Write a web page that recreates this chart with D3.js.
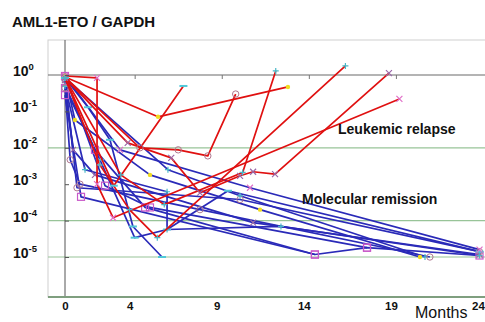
<!DOCTYPE html>
<html>
<head>
<meta charset="utf-8">
<script src="https://cdn.jsdelivr.net/npm/d3@7"></script>
<style>
  html, body { margin: 0; padding: 0; background: #fff; }
  svg { display: block; font-family: Arial, 'Liberation Sans', sans-serif; }
</style>
</head>
<body>
<svg id="chart" width="485" height="322"></svg>
<script>
// months after diagnosis, AML1-ETO / GAPDH ratio
const monthTicks = [0, 4, 9, 14, 19, 24]
const ratioTicks = [1, 1e-1, 1e-2, 1e-3, 1e-4, 1e-5]
const gridRatios = [1e-2, 1e-4, 1e-5]

// leukemic relapse patients
const relapse1 = [[0, 0.94], [1.84, 0.83], [1.84, 0.001], [2.76, 1.2e-4], [19.2, 0.22]]
const relapse2 = [[0, 0.88], [5.34, 0.071], [12.8, 0.47]]
const relapse3 = [[0, 0.88], [4.3, 0.01], [6.5, 0.0088], [8.2, 0.006], [9.8, 0.3]]
const relapse4 = [[0, 0.83], [2.8, 9.1e-4], [6.8, 0.5]]
const relapse5 = [[0, 0.83], [2.0, 0.0034], [3.7, 2e-4], [5.3, 3.4e-5], [16.1, 1.77]]
const relapse6 = [[0, 0.83], [3.6, 0.0137], [6.1, 0.0053], [7.75, 5.8e-4], [10.05, 0.0017], [10.8, 0.0022], [12.06, 0.0019], [18.6, 1.13]]
const relapse7 = [[0, 0.83], [3.2, 0.0018], [5.7, 2.75e-4], [10.2, 0.0021], [12.1, 1.29]]

// molecular remission patients
const remission1 = [[0, 0.28], [0.92, 4.5e-4], [14.35, 1.17e-5], [17.34, 1.8e-5], [23.8, 1.1e-5]]
const remission2 = [[0, 0.73], [0.69, 8e-4], [10.05, 3.8e-4], [23.8, 1.4e-5]]
const remission3 = [[0, 0.73], [0.46, 0.0088], [1.72, 0.0018], [10.8, 8.8e-5], [23.8, 1.17e-5]]
const remission4 = [[0, 0.83], [1.32, 0.13], [2.58, 0.0166], [3.9, 6.9e-5], [5.57, 1e-5]]
const remission5 = [[0, 0.83], [5.91, 0.0025], [10.05, 4.8e-4], [20.67, 1e-5]]
const remission6 = [[0, 0.5], [2.0, 0.0047], [4.0, 3.4e-5], [5.86, 5.7e-5], [9.36, 6.6e-4], [23.8, 1.4e-5]]
const remission7 = [[0, 0.5], [1.15, 0.0025], [5.86, 6.2e-4], [5.86, 5.7e-5], [12.4, 6.9e-5], [23.8, 1.1e-5]]
const remission8 = [[0, 0.44], [1.72, 0.0088], [4.6, 2.3e-4], [14.35, 1.17e-5]]
const remission9 = [[0, 0.44], [0.3, 0.0047], [0.86, 0.001], [7.75, 2e-4], [20.95, 1e-5]]
const remission10 = [[0, 0.94], [2.3, 9.1e-4], [4.88, 2.3e-4], [17.34, 1.8e-5]]
const remission11 = [[0, 0.94], [3.16, 0.0088], [10.62, 8e-4], [23.8, 1.6e-5]]
const remission12 = [[0, 0.94], [0.57, 0.058], [4.88, 0.0018], [11.2, 2e-4], [20.38, 1e-5]]

const relapseSeries = [relapse1, relapse2, relapse3, relapse4, relapse5, relapse6, relapse7]
const remissionSeries = [remission1, remission2, remission3, remission4, remission5, remission6,
  remission7, remission8, remission9, remission10, remission11, remission12]
// marker kind drawn on the points of each patient
const relapseMarkers = ['x', 'dot', 'circle', 'dash', 'plus', 'x2', 'plus']
const remissionMarkers = ['square', 'circle', 'x2', 'dash', 'plus', 'dash', 'plus', 'square', 'circle', 'square', 'x', 'dot']

const svg = d3.select('#chart')
const frame = {left: 48, top: 40, right: 486, bottom: 297}
const x = d3.scaleLinear().domain([0, 24]).range([65, 483])
const y = d3.scaleLog().domain([1e-5, 1]).range([257, 75])

const markColor = {
  x: '#e070c8', x2: '#9a68a8', plus: '#48b8c8', circle: '#b07890',
  square: '#c858c8', dash: '#50c8d8', dot: '#f0dc20'
}

// plot frame
svg.append('rect')
  .attr('x', frame.left)
  .attr('y', frame.top)
  .attr('width', frame.right - frame.left)
  .attr('height', frame.bottom - frame.top)
  .attr('fill', '#fff')
  .attr('stroke', '#cfcfcf')

// green grid lines
svg.append('g')
  .selectAll('line')
  .data(gridRatios)
  .join('line')
  .attr('x1', frame.left)
  .attr('x2', frame.right)
  .attr('y1', d => y(d))
  .attr('y2', d => y(d))
  .attr('stroke', '#98c498')
  .attr('stroke-width', 1.2)

// 10^0 line with small month ticks
svg.append('line')
  .attr('x1', frame.left)
  .attr('x2', frame.right)
  .attr('y1', y(1))
  .attr('y2', y(1))
  .attr('stroke', '#6a6a6a')
  .attr('stroke-width', 1.2)

const topTicks = svg.append('g')
  .attr('transform', `translate(0,${y(1)})`)
  .call(d3.axisBottom(x).tickValues(monthTicks.slice(1, 5)).tickSize(4).tickFormat(''))
topTicks.select('.domain').remove()
topTicks.selectAll('line').attr('stroke', '#777')

// vertical axis at month 0
svg.append('line')
  .attr('x1', x(0))
  .attr('x2', x(0))
  .attr('y1', frame.top)
  .attr('y2', frame.bottom)
  .attr('stroke', '#555')

// bottom axis line
svg.append('line')
  .attr('x1', frame.left)
  .attr('x2', frame.right)
  .attr('y1', frame.bottom)
  .attr('y2', frame.bottom)
  .attr('stroke', '#7f9f7f')
  .attr('stroke-width', 2)

const line = d3.line()
  .x(d => x(d[0]))
  .y(d => y(d[1]))

const drawMarker = (g, kind, px, py) => {
  const c = markColor[kind], s = 3
  if (kind === 'x' || kind === 'x2') {
    g.append('path').attr('d', `M${px - s},${py - s}L${px + s},${py + s}M${px - s},${py + s}L${px + s},${py - s}`)
      .attr('stroke', c).attr('stroke-width', 1.2).attr('fill', 'none')
  } else if (kind === 'plus') {
    g.append('path').attr('d', `M${px - s},${py}L${px + s},${py}M${px},${py - s}L${px},${py + s}`)
      .attr('stroke', c).attr('stroke-width', 1.2).attr('fill', 'none')
  } else if (kind === 'circle') {
    g.append('circle').attr('cx', px).attr('cy', py).attr('r', 3.2)
      .attr('stroke', c).attr('stroke-width', 1).attr('fill', 'none')
  } else if (kind === 'square') {
    g.append('rect').attr('x', px - 3.5).attr('y', py - 3.5).attr('width', 7).attr('height', 7)
      .attr('stroke', c).attr('stroke-width', 1.2).attr('fill', 'none')
  } else if (kind === 'dash') {
    g.append('path').attr('d', `M${px - 4},${py}L${px + 4},${py}`)
      .attr('stroke', c).attr('stroke-width', 2).attr('fill', 'none')
  } else {
    g.append('circle').attr('cx', px).attr('cy', py).attr('r', 2.2).attr('fill', c)
  }
}

const drawGroup = (series, markers, color) => {
  const g = svg.append('g')
  series.forEach(pts => {
    g.append('path')
      .attr('d', line(pts))
      .attr('fill', 'none')
      .attr('stroke', color)
      .attr('stroke-width', 1.7)
      .attr('stroke-linejoin', 'round')
  })
  series.forEach((pts, i) => {
    pts.forEach(p => drawMarker(g, markers[i], x(p[0]), y(p[1])))
  })
}

drawGroup(remissionSeries, remissionMarkers, '#2a2ab8')
drawGroup(relapseSeries, relapseMarkers, '#e01010')

// y axis: ticks inside, labels as 10 with superscript exponent
const yAxis = svg.append('g')
  .attr('transform', `translate(${x(0)},0)`)
  .call(d3.axisLeft(y).tickValues(ratioTicks).tickSize(-4).tickFormat(''))
yAxis.select('.domain').remove()
yAxis.selectAll('line').attr('stroke', '#555')

svg.append('g')
  .selectAll('text')
  .data(ratioTicks)
  .join('text')
  .attr('x', 13)
  .attr('y', d => y(d) + 1)
  .attr('font-size', 14)
  .attr('font-weight', 'bold')
  .attr('fill', '#111')
  .each(function (d) {
    const t = d3.select(this)
    t.append('tspan').text('10')
    t.append('tspan')
      .attr('dy', -6)
      .attr('font-size', 9.5)
      .text(Math.round(Math.log10(d)))
  })

// month labels
const xAxis = svg.append('g')
  .attr('transform', `translate(0,${frame.bottom})`)
  .call(d3.axisBottom(x).tickValues(monthTicks).tickSize(0).tickPadding(5).tickFormat(d3.format('d')))
xAxis.select('.domain').remove()
xAxis.selectAll('text')
  .attr('font-size', 11.5)
  .attr('font-weight', 'bold')
  .attr('font-family', 'Arial, "Liberation Sans", sans-serif')
  .attr('fill', '#111')
  .attr('dx', d => (d === 0 ? 0 : -5))

svg.append('text')
  .attr('x', 415)
  .attr('y', 318)
  .attr('font-size', 16)
  .attr('fill', '#111')
  .text('Months')

svg.append('text')
  .attr('x', 12)
  .attr('y', 27)
  .attr('font-size', 15)
  .attr('font-weight', 'bold')
  .attr('fill', '#111')
  .text('AML1-ETO / GAPDH')

svg.append('text')
  .attr('x', 338)
  .attr('y', 134)
  .attr('font-size', 14)
  .attr('font-weight', 'bold')
  .attr('fill', '#111')
  .text('Leukemic relapse')

svg.append('text')
  .attr('x', 302)
  .attr('y', 204)
  .attr('font-size', 14)
  .attr('font-weight', 'bold')
  .attr('fill', '#111')
  .text('Molecular remission')
</script>
</body>
</html>
